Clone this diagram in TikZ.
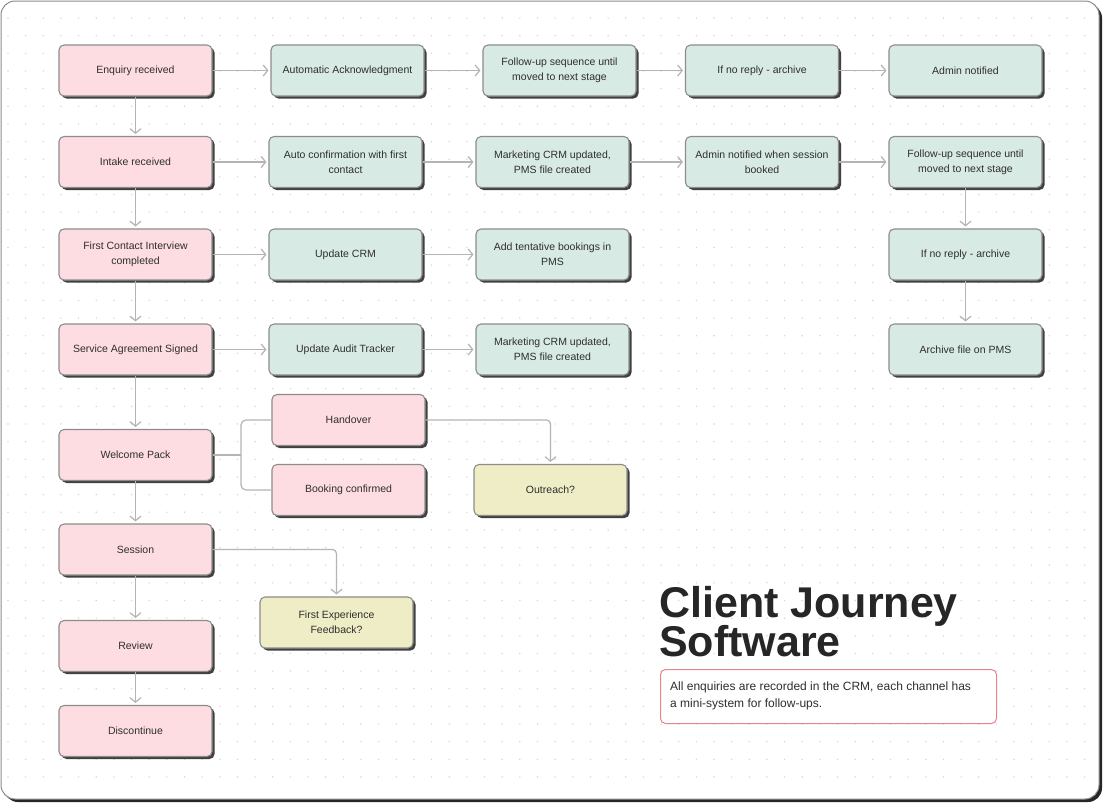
\documentclass[tikz,border=0pt]{standalone}
\usepackage{fontspec}
\setmainfont{Liberation Sans}
\usetikzlibrary{arrows.meta,shadows}
\definecolor{pinkf}{HTML}{FDDDE2}
\definecolor{tealf}{HTML}{D8EAE4}
\definecolor{yelf}{HTML}{EEEDC5}
\definecolor{bord}{HTML}{8C8C8C}
\definecolor{conn}{HTML}{B4B4B4}
\definecolor{txt}{HTML}{2E2E2E}
\definecolor{notebd}{HTML}{E8848C}
\begin{document}
\begin{tikzpicture}[x=1pt,y=-1pt,
 box/.style={draw=bord, line width=1.1pt, rounded corners=5pt, minimum width=153pt, minimum height=51pt, inner sep=0pt, align=center, font=\fontsize{10.5}{15}\selectfont, text=txt, drop shadow={shadow xshift=2.5pt, shadow yshift=-2.5pt, fill=black!75, opacity=1}},
 pk/.style={box, fill=pinkf},
 tl/.style={box, fill=tealf},
 yl/.style={box, fill=yelf},
 arr/.style={draw=conn, line width=1.2pt, -{Straight Barb[length=4.5pt,width=11pt]}, shorten >=2pt, rounded corners=4pt},
 ln/.style={draw=conn, line width=1.2pt, rounded corners=5pt}
]
\useasboundingbox (0,0) rectangle (1104,804);
% frame
\fill[black!85, rounded corners=14pt] (4,4) rectangle (1102,802);
\filldraw[fill=white, draw=black!45, line width=1pt, rounded corners=14pt] (1,1) rectangle (1099,799);
\foreach \i in {0,...,61} \foreach \j in {0,...,43} \fill[black!16] (8+\i*17.65, 18+\j*17.65) circle (0.8pt);

% column 1
\node[pk] (e1) at (135.5,70.5) {Enquiry received};
\node[pk] (i2) at (135.5,162) {Intake received};
\node[pk] (fc3) at (135.5,254.5) {First Contact Interview\\completed};
\node[pk] (sa4) at (135.5,349.5) {Service Agreement Signed};
\node[pk] (wp) at (135.5,455) {Welcome Pack};
\node[pk] (ses) at (135.5,549.5) {Session};
\node[pk] (rev) at (135.5,646) {Review};
\node[pk] (dis) at (135.5,731) {Discontinue};
% column 2
\node[tl] (a1) at (347.5,70.5) {Automatic Acknowledgment};
\node[tl] (a2) at (345.5,162) {Auto confirmation with first\\contact};
\node[tl] (u3) at (345.5,254.5) {Update CRM};
\node[tl] (at4) at (345.5,349.5) {Update Audit Tracker};
\node[pk] (ho) at (348.5,420) {Handover};
\node[pk] (bc) at (348.5,490) {Booking confirmed};
\node[yl] (fef) at (336.5,622.5) {First Experience\\Feedback?};
% column 3
\node[tl] (f1) at (559.5,70.5) {Follow-up sequence until\\moved to next stage};
\node[tl] (m2) at (552.5,162) {Marketing CRM updated,\\PMS file created};
\node[tl] (t3) at (552.5,254.5) {Add tentative bookings in\\PMS};
\node[tl] (m4) at (552.5,349.5) {Marketing CRM updated,\\PMS file created};
\node[yl] (out) at (550.5,490) {Outreach?};
% column 4
\node[tl] (n1) at (762,70.5) {If no reply - archive};
\node[tl] (s2) at (762,162) {Admin notified when session\\booked};
% column 5
\node[tl] (adm1) at (965.5,70.5) {Admin notified};
\node[tl] (fu2) at (965.5,162) {Follow-up sequence until\\moved to next stage};
\node[tl] (nr3) at (965.5,254.5) {If no reply - archive};
\node[tl] (ar4) at (965.5,349.5) {Archive file on PMS};

% connectors
\draw[arr] (e1) -- (a1);
\draw[arr] (a1) -- (f1);
\draw[arr] (f1) -- (n1);
\draw[arr] (n1) -- (adm1);
\draw[arr] (i2) -- (a2);
\draw[arr] (a2) -- (m2);
\draw[arr] (m2) -- (s2);
\draw[arr] (s2) -- (fu2);
\draw[arr] (fu2) -- (nr3);
\draw[arr] (nr3) -- (ar4);
\draw[arr] (fc3) -- (u3);
\draw[arr] (u3) -- (t3);
\draw[arr] (sa4) -- (at4);
\draw[arr] (at4) -- (m4);
\draw[arr] (e1) -- (i2);
\draw[arr] (i2) -- (fc3);
\draw[arr] (fc3) -- (sa4);
\draw[arr] (sa4) -- (wp);
\draw[arr] (wp) -- (ses);
\draw[arr] (ses) -- (rev);
\draw[arr] (rev) -- (dis);
\coordinate (brk) at (241,455);
\draw[ln] (wp.east) -- (brk);
\draw[ln] (ho.west) -| (brk);
\draw[ln] (bc.west) -| (brk);
\draw[arr] (ho.east) -| (out.north);
\draw[arr] (ses.east) -| (fef.north);

% title and note
\node[anchor=base west, inner sep=0pt, font=\fontsize{43}{43}\bfseries, text=black!85] (t1) at (659,617) {Client Journey};
\node[anchor=base west, inner sep=0pt, font=\fontsize{43}{43}\bfseries, text=black!85] (t2) at (659,656) {Software};
\node[draw=notebd, line width=1pt, rounded corners=5pt, fill=white, anchor=north west, minimum width=336pt, minimum height=54pt, inner sep=0pt] (note) at (660,669) {};
\node[anchor=west, align=left, inner sep=0pt, font=\fontsize{12}{16.5}\selectfont, text=txt] (notet) at (670,696) {All enquiries are recorded in the CRM, each channel has\\a mini-system for follow-ups.};
\end{tikzpicture}
\end{document}
